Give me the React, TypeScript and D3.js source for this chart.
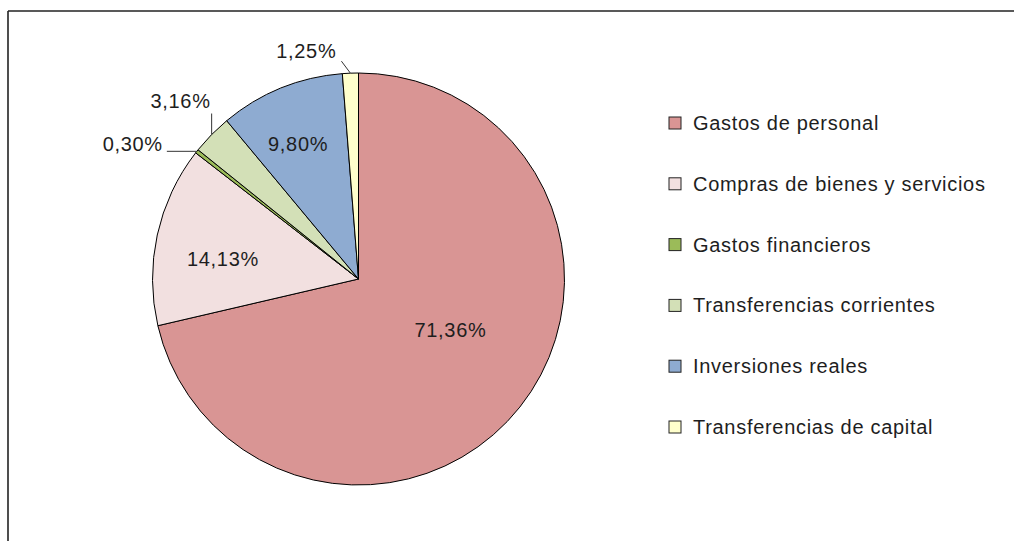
import React from "react";
import * as d3 from "d3";

const categories = [
  "Gastos de personal",
  "Compras de bienes y servicios",
  "Gastos financieros",
  "Transferencias corrientes",
  "Inversiones reales",
  "Transferencias de capital",
];
const values = [71.36, 14.13, 0.3, 3.16, 9.8, 1.25];
const labels = ["71,36%", "14,13%", "0,30%", "3,16%", "9,80%", "1,25%"];
const colors = ["#D99594", "#F2E0E0", "#9BBB59", "#D3E0B7", "#8EABD1", "#FFFFCC"];

// label placement: inside (angle shift in degrees, radius factor) or outside leader
const inside = [
  { shift: -9.5, rf: 0.51 },
  { shift: -3.9, rf: 0.665 },
  null,
  null,
  { shift: -1.9, rf: 0.72 },
  null,
];
const outside = [
  null,
  null,
  { kind: "h", len: 30, tx: -4, ty: 0 },
  { kind: "v", len: 21, tx: -1, ty: -5.5 },
  null,
  { kind: "d", dx: -9, dy: -12, tx: -5, ty: -3 },
];

const W = 1014;
const H = 541;
const cx = 358.5;
const cy = 279;
const R = 206;
const FONT = "'Liberation Sans', Arial, Helvetica, sans-serif";
const FS = 20;
const LS = 0.7;

export default function App() {
  const pie = d3.pie<number>().sort(null).value((d) => d)(values);
  const arc = d3.arc<d3.PieArcDatum<number>>().innerRadius(0).outerRadius(R);
  const legendY = d3.scalePoint<string>().domain(categories).range([123, 427]);

  const polar = (ang: number, r: number): [number, number] => [
    Math.sin(ang) * r,
    -Math.cos(ang) * r,
  ];

  return (
    <svg
      width={W}
      height={H}
      style={{ position: "absolute", left: 0, top: 0, background: "#fff" }}
      fontFamily={FONT}
    >
      <line x1={8} y1={11} x2={W} y2={11} stroke="#222" strokeWidth={1.6} />
      <line x1={8} y1={11} x2={8} y2={H} stroke="#222" strokeWidth={1.6} />
      <g transform={`translate(${cx},${cy})`}>
        {pie.map((p, i) => (
          <path key={i} d={arc(p) || ""} fill={colors[i]} stroke="#000" strokeWidth={1} />
        ))}
        {pie.map((p, i) => {
          const mid = (p.startAngle + p.endAngle) / 2;
          const ins = inside[i];
          if (ins) {
            const [x, y] = polar(mid + (ins.shift * Math.PI) / 180, R * ins.rf);
            return (
              <text key={i} x={x} y={y} dy="0.35em" textAnchor="middle" fontSize={FS} letterSpacing={LS} fill="#1e1e1e">
                {labels[i]}
              </text>
            );
          }
          const o = outside[i];
          if (!o) return null;
          const [ex, ey] = polar(mid, R);
          let lx = ex;
          let ly = ey;
          if (o.kind === "h") lx = ex - (o.len as number);
          else if (o.kind === "v") ly = ey - (o.len as number);
          else {
            lx = ex + (o.dx as number);
            ly = ey + (o.dy as number);
          }
          return (
            <g key={i}>
              <polyline
                points={`${ex},${ey} ${lx},${ly}`}
                fill="none"
                stroke="#333"
                strokeWidth={1}
              />
              <text
                x={lx + (o.tx as number)}
                y={ly + (o.ty as number)}
                textAnchor="end"
                fontSize={FS}
                letterSpacing={LS}
                fill="#1e1e1e"
              >
                {labels[i]}
              </text>
            </g>
          );
        })}
      </g>
      <g>
        {categories.map((c, i) => {
          const y = legendY(c) as number;
          return (
            <g key={c} transform={`translate(669,${y})`}>
              <rect x={0} y={-6} width={12} height={12} fill={colors[i]} stroke="#222" strokeWidth={1} />
              <text x={24} y={0} dy="0.35em" fontSize={FS} letterSpacing={LS} fill="#1e1e1e">
                {c}
              </text>
            </g>
          );
        })}
      </g>
    </svg>
  );
}
